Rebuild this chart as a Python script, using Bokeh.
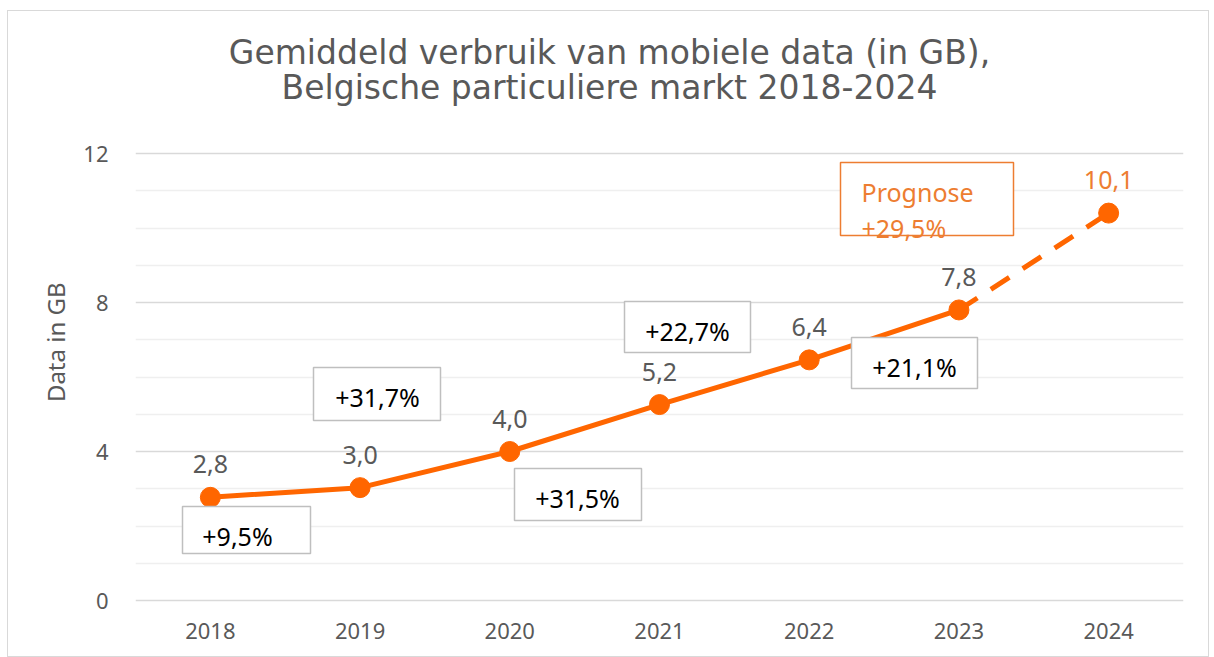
from bokeh.plotting import figure
from bokeh.layouts import row
from bokeh.models import Range1d, FixedTicker, Label, BoxAnnotation, ColumnDataSource
from bokeh.embed import file_html
from bokeh.resources import INLINE
from bokeh.core.properties import value

# ---------------- data ----------------
years = ["2018", "2019", "2020", "2021", "2022", "2023", "2024"]
gb_values = [2.77, 3.03, 4.0, 5.26, 6.46, 7.8, 10.4]
gb_labels = ["2,8", "3,0", "4,0", "5,2", "6,4", "7,8", "10,1"]
growth_labels = ["+9,5%", "+31,7%", "+31,5%", "+22,7%", "+21,1%"]
forecast_title = "Prognose"
forecast_growth = "+29,5%"
y_ticks = [0, 4, 8, 12]
y_minor = [1, 2, 3, 5, 6, 7, 9, 10, 11]
title_lines = ["Gemiddeld verbruik van mobiele data (in GB),",
               "Belgische particuliere markt 2018-2024"]
y_title = "Data in GB"

# ---------------- style / geometry (page pixels) ----------------
FONT = "Noto Sans"
TITLE_FONT = "DejaVu Sans"
GRAY = "#595959"
ORANGE = "#FF6600"
ORANGE_TXT = "#ED7D31"
BOX_LINE = "#BFBFBF"
LBL_SIZE = "25px"
LBL_DY = 7      # baseline correction for 25px labels (px, upward)
TITLE_DY = 9    # baseline correction for the title (px, upward)

OX, OY = 8, 11              # content origin on the page
H = 645
W_LEFT = 70
W_MAIN = 1130
GX0, GX1 = 135, 1183        # plot (gridline) extent
GY0, GY12 = 600, 153        # pixel rows of y=0 and y=12
FRAME_BOTTOM = 602
ML = GX0 - (OX + W_LEFT)
MR = (OX + W_LEFT + W_MAIN) - GX1
MB = (OY + H) - FRAME_BOTTOM

NCAT = len(years)


def xd(px):
    return -0.5 + (px - GX0) * NCAT / (GX1 - GX0)


def yd(py):
    return (GY0 - py) * 12 / (GY0 - GY12)


def dy(pxs):
    return pxs * 12 / (GY0 - GY12)


p = figure(width=W_MAIN, height=H, output_backend="svg", toolbar_location=None,
           x_range=Range1d(xd(GX0), xd(GX1)), y_range=Range1d(yd(FRAME_BOTTOM), yd(OY)),
           min_border_left=ML, min_border_right=MR, min_border_top=0,
           min_border_bottom=MB)
p.outline_line_color = None
p.background_fill_color = "white"
p.border_fill_color = "white"

# axes
idx = list(range(NCAT))
p.xaxis.ticker = FixedTicker(ticks=idx)
p.xaxis.major_label_overrides = {i: y for i, y in zip(idx, years)}
p.yaxis.ticker = FixedTicker(ticks=y_ticks, minor_ticks=y_minor)
for ax in (p.xaxis, p.yaxis):
    ax.axis_line_color = None
    ax.major_tick_line_color = None
    ax.minor_tick_line_color = None
    ax.major_tick_out = 0
    ax.minor_tick_out = 0
    ax.major_label_text_color = GRAY
    ax.major_label_text_font = FONT
    ax.major_label_text_font_size = "22px"
p.xaxis.major_label_standoff = 20
p.yaxis.major_label_standoff = 27

p.xgrid.grid_line_color = None
p.ygrid.grid_line_color = "#D9D9D9"
p.ygrid.grid_line_width = 1.5
p.ygrid.minor_grid_line_color = "#EFEFEF"
p.ygrid.minor_grid_line_width = 1.5

# title (inside the frame area above the plot)
for line, base in zip(title_lines, (61, 96)):
    p.add_layout(Label(x=xd(609), y=yd(base - TITLE_DY), text=line, text_align="center",
                       text_baseline="alphabetic", text_font=TITLE_FONT,
                       text_font_size="33px", text_color=GRAY))

# series
n_actual = NCAT - 1
p.line(idx[:n_actual], gb_values[:n_actual], line_color=ORANGE, line_width=5)
p.line(idx[n_actual - 1:], gb_values[n_actual - 1:], line_color=ORANGE, line_width=5,
       line_dash="22 16")
p.scatter(idx, gb_values, size=20, fill_color=ORANGE, line_color=ORANGE)

label_colors = [GRAY] * n_actual + [ORANGE_TXT]
src = ColumnDataSource(dict(x=idx, y=[v + dy(26 + LBL_DY) for v in gb_values],
                            t=gb_labels, c=label_colors))
p.text(x="x", y="y", text="t", text_color="c", source=src, text_align="center",
       text_baseline="alphabetic", text_font=value(FONT), text_font_size=LBL_SIZE)

# growth boxes (pixel positions: left, right, top, bottom, text-centre-x)
box_px = [(182, 310, 506, 553, 237),
          (313, 440, 367, 420, 377),
          (514, 641, 468, 520, 577),
          (624, 750, 301, 352, 687),
          (851, 977, 337, 388, 914)]
for (l, r, t, b, cx), g in zip(box_px, growth_labels):
    p.add_layout(BoxAnnotation(left=xd(l), right=xd(r), top=yd(t), bottom=yd(b),
                               fill_color="white", fill_alpha=1.0,
                               line_color=BOX_LINE, line_alpha=1.0, line_width=1.5))
    p.add_layout(Label(x=xd(cx), y=yd(t + 36 - LBL_DY), text=g, text_align="center",
                       text_baseline="alphabetic", text_font=FONT,
                       text_font_size=LBL_SIZE, text_color="black"))

# forecast box
p.add_layout(BoxAnnotation(left=xd(840), right=xd(1013), top=yd(162), bottom=yd(235),
                           fill_color="white", fill_alpha=1.0,
                           line_color=ORANGE_TXT, line_alpha=1.0, line_width=1.5))
p.add_layout(Label(x=xd(861), y=yd(198 - LBL_DY), text=forecast_title, text_align="left",
                   text_baseline="alphabetic", text_font=FONT, text_font_size=LBL_SIZE,
                   text_color=ORANGE_TXT))
p.add_layout(Label(x=xd(861), y=yd(234 - LBL_DY), text=forecast_growth, text_align="left",
                   text_baseline="alphabetic", text_font=FONT, text_font_size=LBL_SIZE,
                   text_color=ORANGE_TXT))

# left strip with the y-axis title
q = figure(width=W_LEFT, height=H, output_backend="svg", toolbar_location=None,
           x_range=Range1d(OX, OX + W_LEFT), y_range=Range1d(-(OY + H), -OY),
           min_border=0, x_axis_type=None, y_axis_type=None)
q.outline_line_color = None
q.grid.visible = False
q.background_fill_color = "white"
q.border_fill_color = "white"
q.add_layout(Label(x=55, y=-372, text=y_title, angle=1.5708, text_align="center",
                   text_baseline="middle", text_font=FONT, text_font_size="24px",
                   text_color=GRAY))

layout = row(q, p, spacing=0)
layout.styles = {"border": "1px solid #d9d9d9", "margin-left": "7px", "margin-top": "10px",
                 "background-color": "white"}

open("out.html", "w").write(file_html(layout, INLINE))
